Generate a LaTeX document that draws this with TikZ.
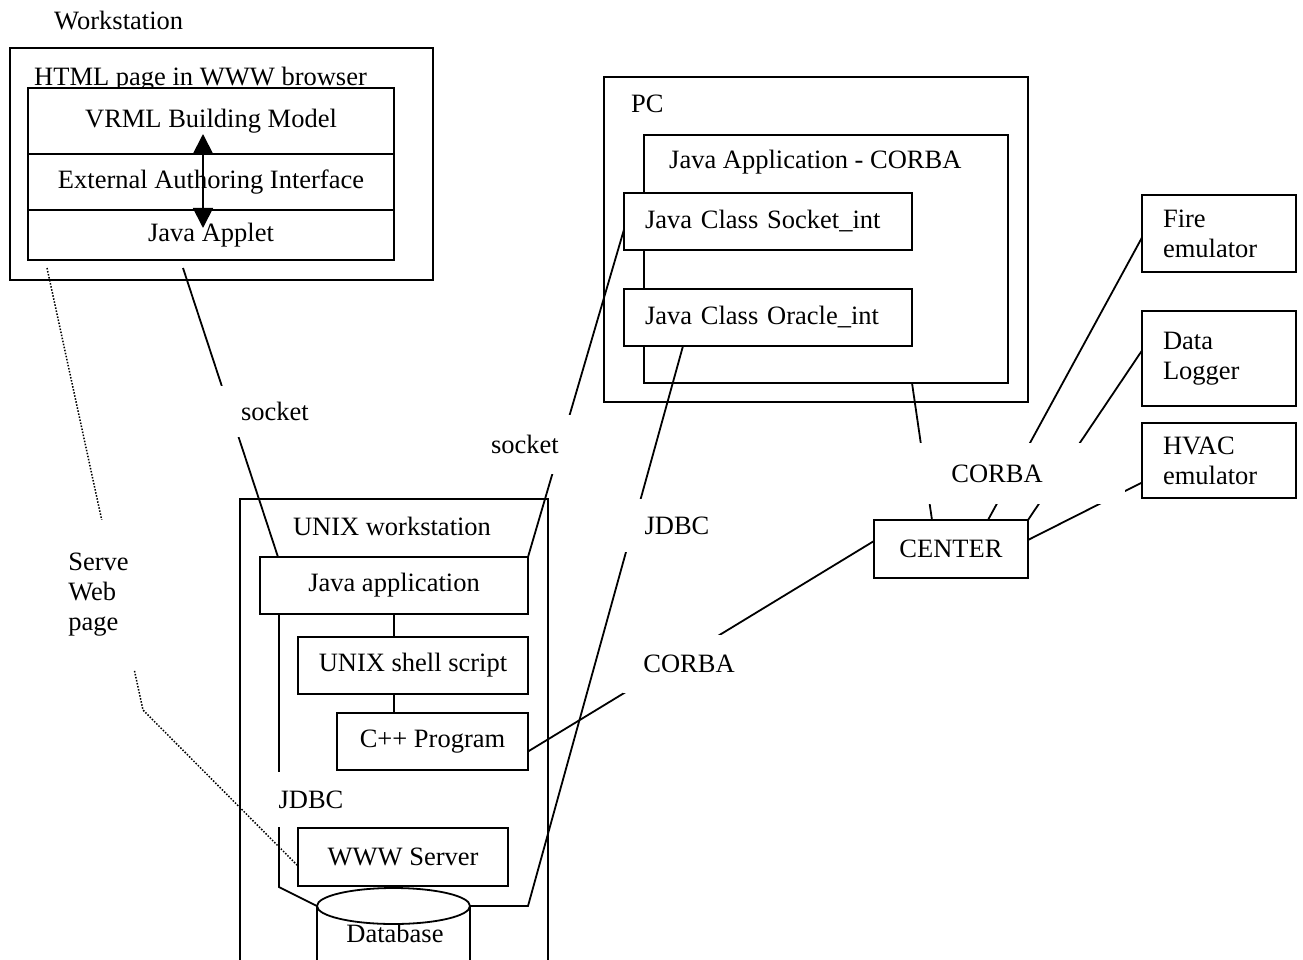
\documentclass[tikz,border=0pt]{standalone}
\usepackage{fontspec}
\setmainfont{Liberation Serif}
\usetikzlibrary{positioning, calc, arrows.meta}
\tikzset{every picture/.append style={line width=1.8pt}}
\tikzset{
  box/.style={draw, fill=white, anchor=north west, inner sep=0pt, outer sep=0pt},
  lbox/.style={box, align=left, inner xsep=21pt},
  gap/.style={fill=white, inner sep=0pt, align=left},
  web/.style={line width=1.5pt, dash pattern=on 1.5pt off 1.6pt},
}

\begin{document}
\begin{tikzpicture}[x=1pt, y=-1pt, font=\fontsize{26.5pt}{30pt}\selectfont,
    >={Triangle[length=20pt, width=20pt]}]
    \clip (0,0) rectangle (1303,960);

    % ---------------- WORKSTATION ---------------- %
    \node[anchor=base west] (wslabel) at (50,30) {Workstation};
    \node[box, minimum width=423, minimum height=232] (ws) at (10,48) {};
    \node[anchor=base west] (html) at (30,86) {HTML page in WWW browser};
    \node[box, minimum width=366, minimum height=66] (vrml) at (28,88) {VRML Building Model};
    \node[box, minimum width=366, minimum height=56, anchor=north, below=0pt of vrml] (eai) {External Authoring Interface};
    \node[box, minimum width=366, minimum height=50, anchor=north, below=0pt of eai] (applet) {Java Applet};
    \draw[<->] ([xshift=-8pt, yshift=20pt]vrml.south) -- ([xshift=-8pt, yshift=-18pt]applet.north);

    % ---------------- UNIX WORKSTATION ---------------- %
    \node[box, minimum width=308, minimum height=480] (unix) at (240,499) {};
    \node[anchor=base] (unixlabel) at (392,535) {UNIX workstation};
    \node[box, minimum width=268, minimum height=57] (jvapp) at (260,557) {Java application};
    \node[box, minimum width=230, minimum height=57] (shell) at (298,637) {UNIX shell script};
    \node[box, minimum width=191, minimum height=57] (cpp) at (337,713) {C++ Program};
    \node[box, minimum width=210, minimum height=58] (www) at (298,828) {WWW Server};
    \draw (jvapp.south) -- (jvapp.south |- shell.north);
    \draw (jvapp.south |- shell.south) -- (jvapp.south |- cpp.north);

    % Database
    \coordinate (dbL) at (317,906);
    \coordinate (dbR) at (470,906);
    \draw (dbL) -- (317,975) (dbR) -- (470,975);
    \draw[fill=white] (393.5,906) ellipse [x radius=76.5pt, y radius=18pt];
    \node[anchor=base] (db) at (395,942) {Database};

    % ---------------- PC ---------------- %
    \node[box, minimum width=424, minimum height=325] (pc) at (604,77) {};
    \node[anchor=base west] (pclabel) at (627,113) {PC};
    \node[box, minimum width=364, minimum height=248] (corbaapp) at (644,135) {};
    \node[anchor=base west] (corbalabel) at (665,169) {Java Application - CORBA};
    \node[lbox, minimum height=57, text width=246] (sockint) at (624,193) {Java Class Socket\_int};
    \node[lbox, minimum height=57, text width=246] (oracle) at (624,289) {Java Class Oracle\_int};

    % ---------------- CENTER AND DEVICES ---------------- %
    \node[box, minimum width=154, minimum height=58] (center) at (874,520) {CENTER};
    \node[lbox, minimum height=77, text width=112] (fire) at (1142,195) {Fire\\emulator};
    \node[lbox, minimum height=95, text width=112] (logger) at (1142,311) {Data\\Logger};
    \node[lbox, minimum height=75, text width=112] (hvac) at (1142,423) {HVAC\\emulator};

    % Links
    \draw ($(applet.south)+(-28,8)$) -- ($(jvapp.north west)+(18,0)$);
    \draw (jvapp.north east) -- ($(sockint.west)+(0,8)$);
    \draw ($(jvapp.south west)+(19,0)$) -- ++(0,273) -- (dbL);
    \draw (dbR) -- ++(58,0) -- ($(oracle.south west)+(59,0)$);
    \draw ($(cpp.east)+(0,10)$) -- ($(center.west)+(0,-8)$);
    \draw ($(corbaapp.south west)+(268,0)$) -- ($(center.north west)+(58,0)$);
    \draw ($(fire.west)+(0,4)$) -- ($(center.north west)+(114,0)$);
    \draw ($(logger.west)+(0,-8)$) -- (center.north east);
    \draw ($(hvac.west)+(0,22)$) -- ($(center.east)+(0,-9)$);
    \coordinate (bend) at (143,710);
    \draw[web] ($(applet.south west)+(19,8)$) -- (bend) -- ($(www.west)+(0,9)$);

    % Link labels
    \node[gap, minimum width=110, minimum height=51] (sock1) at (275,411) {socket};
    \node[gap, minimum width=100, minimum height=59] (sock2) at (525,444.5) {socket};
    \node[gap, minimum width=110, minimum height=53] (jdbc1) at (677,525.5) {JDBC};
    \node[gap, minimum width=132, minimum height=58] (corba1) at (689,664) {CORBA};
    \node[gap, minimum width=256, minimum height=61] (corba2) at (997,473.5) {CORBA};
    \node[gap, minimum width=80, minimum height=55] (jdbc2) at (311,799.5) {JDBC};
    \node[gap, minimum width=86, minimum height=150] (serve) at (98.5,595) {Serve\\Web\\page};
\end{tikzpicture}
\end{document}
